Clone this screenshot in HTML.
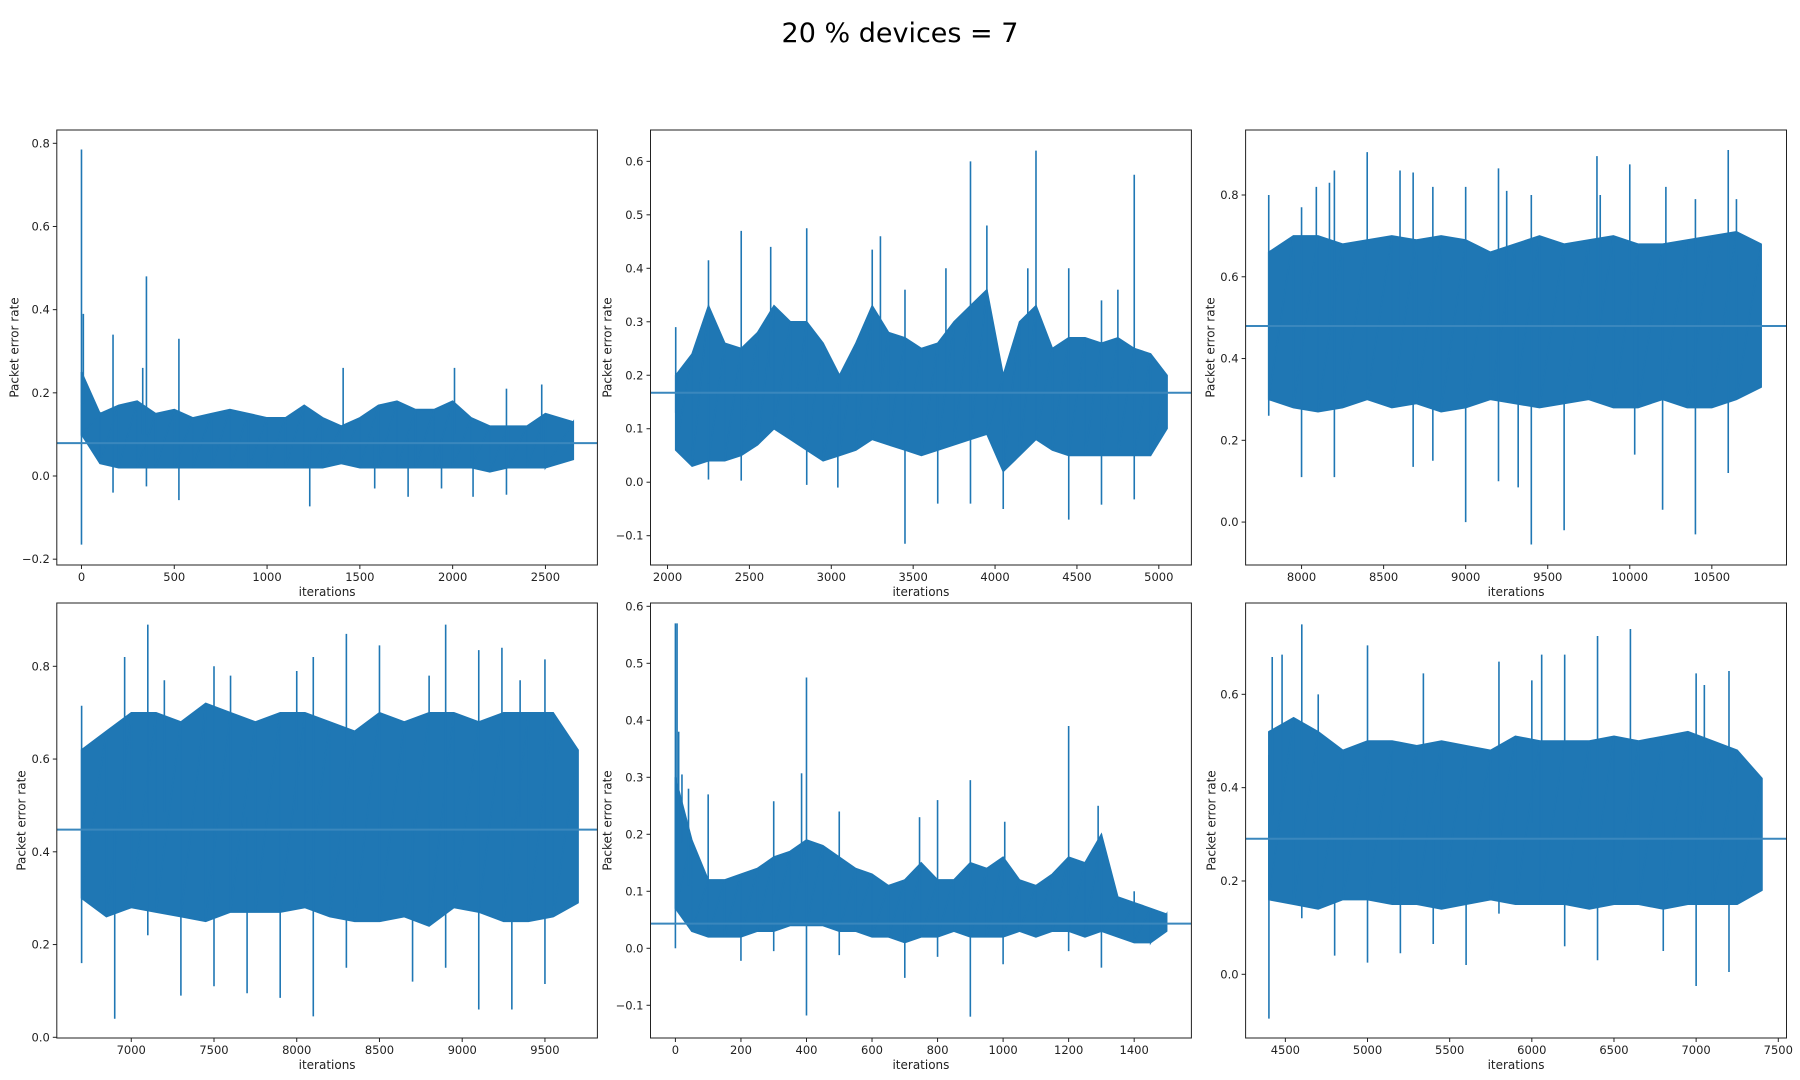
<!DOCTYPE html>
<html><head><meta charset="utf-8"><style>
html,body{margin:0;padding:0;background:#fff;}
svg{display:block;font-family:"DejaVu Sans","Liberation Sans",sans-serif;}
</style></head><body>
<svg id="fig" width="1800" height="1080" viewBox="0 0 1800 1080" xmlns="http://www.w3.org/2000/svg">
<rect width="1800" height="1080" fill="#fff"/>
<text x="900" y="42" text-anchor="middle" font-size="27" fill="#000">20 % devices = 7</text>
</svg>
<script>
// ---- Data ----
const binsA_x = [0,100,200,300,400,500,600,700,800,900,1000,1100,1200,1300,1400,1500,1600,1700,1800,1900,2000,2100,2200,2300,2400,2500,2650];
const binsA_hi = [0.25,0.15,0.17,0.18,0.15,0.16,0.14,0.15,0.16,0.15,0.14,0.14,0.17,0.14,0.12,0.14,0.17,0.18,0.16,0.16,0.18,0.14,0.12,0.12,0.12,0.15,0.13];
const binsA_lo = [0.10,0.03,0.02,0.02,0.02,0.02,0.02,0.02,0.02,0.02,0.02,0.02,0.02,0.02,0.03,0.02,0.02,0.02,0.02,0.02,0.02,0.02,0.01,0.02,0.02,0.02,0.04];
const spikesA_x = [0,0,10,170,170,350,350,525,525,1230,1410,1580,1760,2010,2110,2290,2290,2480,1940,330];
const spikesA_y = [0.785,-0.165,0.39,0.34,-0.04,0.48,-0.025,0.33,-0.058,-0.073,0.26,-0.03,-0.05,0.26,-0.05,0.21,-0.045,0.22,-0.03,0.26];

const binsB_x = [2050,2150,2250,2350,2450,2550,2650,2750,2850,2950,3050,3150,3250,3350,3450,3550,3650,3750,3850,3950,4050,4150,4250,4350,4450,4550,4650,4750,4850,4950,5050];
const binsB_hi = [0.20,0.24,0.33,0.26,0.25,0.28,0.33,0.30,0.30,0.26,0.20,0.26,0.33,0.28,0.27,0.25,0.26,0.30,0.33,0.36,0.20,0.30,0.33,0.25,0.27,0.27,0.26,0.27,0.25,0.24,0.20];
const binsB_lo = [0.06,0.03,0.04,0.04,0.05,0.07,0.10,0.08,0.06,0.04,0.05,0.06,0.08,0.07,0.06,0.05,0.06,0.07,0.08,0.09,0.02,0.05,0.08,0.06,0.05,0.05,0.05,0.05,0.05,0.05,0.10];
const spikesB_x = [2050,2250,2250,2450,2450,2630,2850,2850,3040,3250,3300,3450,3450,3650,3700,3850,3850,3950,4050,4250,4200,4450,4450,4650,4650,4850,4850,4750];
const spikesB_y = [0.29,0.415,0.005,0.47,0.003,0.44,0.475,-0.005,-0.01,0.435,0.46,-0.115,0.36,-0.04,0.40,0.60,-0.04,0.48,-0.05,0.62,0.40,0.40,-0.07,-0.042,0.34,0.575,-0.032,0.36];

const binsC_x = [7800,7950,8100,8250,8400,8550,8700,8850,9000,9150,9300,9450,9600,9750,9900,10050,10200,10350,10500,10650,10800];
const binsC_hi = [0.66,0.70,0.70,0.68,0.69,0.70,0.69,0.70,0.69,0.66,0.68,0.70,0.68,0.69,0.70,0.68,0.68,0.69,0.70,0.71,0.68];
const binsC_lo = [0.30,0.28,0.27,0.28,0.30,0.28,0.29,0.27,0.28,0.30,0.29,0.28,0.29,0.30,0.28,0.28,0.30,0.28,0.28,0.30,0.33];
const spikesC_x = [7800,7800,8000,8000,8090,8170,8200,8200,8400,8600,8680,8680,8800,8800,9000,9000,9200,9200,9250,9320,9400,9400,9600,9800,9820,10000,10030,10200,10220,10400,10400,10600,10600,10650];
const spikesC_y = [0.80,0.26,0.77,0.11,0.82,0.83,0.86,0.11,0.905,0.86,0.855,0.135,0.82,0.15,0.82,0.0,0.865,0.10,0.81,0.085,-0.055,0.80,-0.02,0.895,0.80,0.875,0.165,0.03,0.82,-0.03,0.79,0.91,0.12,0.79];

const binsD_x = [6700,6850,7000,7150,7300,7450,7600,7750,7900,8050,8200,8350,8500,8650,8800,8950,9100,9250,9400,9550,9700];
const binsD_hi = [0.62,0.66,0.70,0.70,0.68,0.72,0.70,0.68,0.70,0.70,0.68,0.66,0.70,0.68,0.70,0.70,0.68,0.70,0.70,0.70,0.62];
const binsD_lo = [0.30,0.26,0.28,0.27,0.26,0.25,0.27,0.27,0.27,0.28,0.26,0.25,0.25,0.26,0.24,0.28,0.27,0.25,0.25,0.26,0.29];
const spikesD_x = [6700,6700,6900,6960,7100,7100,7300,7500,7500,7600,7700,7900,8000,8100,8100,8300,8300,8500,8700,8800,8900,8900,9100,9100,9240,9300,9500,9500,9350,7200];
const spikesD_y = [0.715,0.16,0.04,0.82,0.89,0.22,0.09,0.80,0.11,0.78,0.095,0.085,0.79,0.82,0.045,0.87,0.15,0.845,0.12,0.78,0.89,0.15,0.835,0.06,0.84,0.06,0.815,0.115,0.77,0.77];

const binsE_x = [0,50,100,150,200,250,300,350,400,450,500,550,600,650,700,750,800,850,900,950,1000,1050,1100,1150,1200,1250,1300,1350,1400,1450,1499];
const binsE_hi = [0.30,0.19,0.12,0.12,0.13,0.14,0.16,0.17,0.19,0.18,0.16,0.14,0.13,0.11,0.12,0.15,0.12,0.12,0.15,0.14,0.16,0.12,0.11,0.13,0.16,0.15,0.20,0.09,0.08,0.07,0.06];
const binsE_lo = [0.07,0.03,0.02,0.02,0.02,0.03,0.03,0.04,0.04,0.04,0.03,0.03,0.02,0.02,0.01,0.02,0.02,0.03,0.02,0.02,0.02,0.03,0.02,0.03,0.03,0.02,0.03,0.02,0.01,0.01,0.03];
const spikesE_x = [0,0,5,10,20,40,100,200,300,300,385,400,400,500,500,700,745,800,800,900,900,1000,1005,1200,1200,1290,1300,1400];
const spikesE_y = [0.57,0.0,0.57,0.38,0.305,0.28,0.27,-0.022,0.258,-0.005,0.307,0.475,-0.118,0.24,-0.012,-0.052,0.23,0.26,-0.015,0.295,-0.12,-0.028,0.222,0.39,-0.005,0.25,-0.034,0.10];

const binsF_x = [4400,4550,4700,4850,5000,5150,5300,5450,5600,5750,5900,6050,6200,6350,6500,6650,6800,6950,7100,7250,7400];
const binsF_hi = [0.52,0.55,0.52,0.48,0.50,0.50,0.49,0.50,0.49,0.48,0.51,0.50,0.50,0.50,0.51,0.50,0.51,0.52,0.50,0.48,0.42];
const binsF_lo = [0.16,0.15,0.14,0.16,0.16,0.15,0.15,0.14,0.15,0.16,0.15,0.15,0.15,0.14,0.15,0.15,0.14,0.15,0.15,0.15,0.18];
const spikesF_x = [4400,4400,4420,4480,4600,4600,4800,5000,5000,5200,5340,5400,5600,5800,5800,6000,6060,6200,6200,6400,6400,6600,6800,7000,7000,7200,7200,7050,4700];
const spikesF_y = [-0.095,0.47,0.68,0.685,0.75,0.12,0.04,0.705,0.025,0.045,0.645,0.065,0.02,0.67,0.13,0.63,0.685,0.06,0.685,0.725,0.03,0.74,0.05,0.645,-0.025,0.005,0.65,0.62,0.60];

const meanVals = [0.079,0.1674,0.4795,0.4477,0.0432,0.2906];
const xTicksA=[0,500,1000,1500,2000,2500], yTicksA=[-0.2,0,0.2,0.4,0.6,0.8];
const xTicksB=[2000,2500,3000,3500,4000,4500,5000], yTicksB=[-0.1,0,0.1,0.2,0.3,0.4,0.5,0.6];
const xTicksC=[8000,8500,9000,9500,10000,10500], yTicksC=[0,0.2,0.4,0.6,0.8];
const xTicksD=[7000,7500,8000,8500,9000,9500], yTicksD=[0,0.2,0.4,0.6,0.8];
const xTicksE=[0,200,400,600,800,1000,1200,1400], yTicksE=[-0.1,0,0.1,0.2,0.3,0.4,0.5,0.6];
const xTicksF=[4500,5000,5500,6000,6500,7000,7500], yTicksF=[0,0.2,0.4,0.6];

// ---- layout ----
const NS="http://www.w3.org/2000/svg";
const svg=document.getElementById('fig');
function mk(tag,attrs,parent){const e=document.createElementNS(NS,tag);for(const k in attrs)e.setAttribute(k,attrs[k]);(parent||svg).appendChild(e);return e;}
const panels=[
 {L:56.8,T:130,W:540.6,H:435,xd:[-133,2780],yd:[-0.214,0.832],bx:binsA_x,hi:binsA_hi,lo:binsA_lo,sx:spikesA_x,sy:spikesA_y,xt:xTicksA,yt:yTicksA,lx:15,name:'panel-1'},
 {L:650.5,T:130,W:540.9,H:435,xd:[1896,5199],yd:[-0.1548,0.6586],bx:binsB_x,hi:binsB_hi,lo:binsB_lo,sx:spikesB_x,sy:spikesB_y,xt:xTicksB,yt:yTicksB,lx:608,name:'panel-2'},
 {L:1245.6,T:130,W:540.9,H:435,xd:[7659,10955],yd:[-0.105,0.959],bx:binsC_x,hi:binsC_hi,lo:binsC_lo,sx:spikesC_x,sy:spikesC_y,xt:xTicksC,yt:yTicksC,lx:1211,name:'panel-3'},
 {L:56.8,T:603,W:540.6,H:435,xd:[6550,9817],yd:[-0.0015,0.9365],bx:binsD_x,hi:binsD_hi,lo:binsD_lo,sx:spikesD_x,sy:spikesD_y,xt:xTicksD,yt:yTicksD,lx:22,name:'panel-4'},
 {L:650.5,T:603,W:540.9,H:435,xd:[-76,1574.6],yd:[-0.1574,0.6058],bx:binsE_x,hi:binsE_hi,lo:binsE_lo,sx:spikesE_x,sy:spikesE_y,xt:xTicksE,yt:yTicksE,lx:608,name:'panel-5'},
 {L:1245.6,T:603,W:540.9,H:435,xd:[4258,7550],yd:[-0.1365,0.7957],bx:binsF_x,hi:binsF_hi,lo:binsF_lo,sx:spikesF_x,sy:spikesF_y,xt:xTicksF,yt:yTicksF,lx:1212,name:'panel-6'}
];
const C='#1f77b4';
panels.forEach((p,i)=>{
  const g=mk('g',{});
  
  
  const X=v=>p.L+(v-p.xd[0])/(p.xd[1]-p.xd[0])*p.W;
  const Y=v=>p.T+p.H-(v-p.yd[0])/(p.yd[1]-p.yd[0])*p.H;
  const cid='clip'+i;
  const cp=mk('clipPath',{id:cid},g); mk('rect',{x:p.L,y:p.T,width:p.W,height:p.H},cp);
  const dg=mk('g',{'clip-path':'url(#'+cid+')'},g);
  let pts=[];
  for(let k=0;k<p.bx.length;k++)pts.push(X(p.bx[k]).toFixed(1)+','+Y(p.hi[k]).toFixed(1));
  for(let k=p.bx.length-1;k>=0;k--)pts.push(X(p.bx[k]).toFixed(1)+','+Y(p.lo[k]).toFixed(1));
  const band=mk('polygon',{points:pts.join(' '),fill:C,stroke:C,'stroke-width':1.5},dg);
  
  
  let zz=[];
  for(let k=0;k<p.bx.length;k++){zz.push(X(p.bx[k]).toFixed(1)+','+Y(p.hi[k]).toFixed(1));zz.push(X(p.bx[k]).toFixed(1)+','+Y(p.lo[k]).toFixed(1));}
  const zl=mk('polyline',{points:zz.join(' '),fill:'none',stroke:C,'stroke-width':1.5},dg);
  
  
  for(let k=0;k<p.sx.length;k++){
    let j=0;for(let m=0;m<p.bx.length;m++)if(Math.abs(p.bx[m]-p.sx[k])<Math.abs(p.bx[j]-p.sx[k]))j=m;
    const base=(p.hi[j]+p.lo[j])/2;
    const s=mk('line',{x1:X(p.sx[k]),x2:X(p.sx[k]),y1:Y(base),y2:Y(p.sy[k]),stroke:C,'stroke-width':1.6},dg);
    
    
  }
  const ml=mk('line',{x1:p.L,x2:p.L+p.W,y1:Y(meanVals[i]),y2:Y(meanVals[i]),stroke:'#3a87bd','stroke-width':2},g);
  
  
  const fr=mk('rect',{x:p.L,y:p.T,width:p.W,height:p.H,fill:'none',stroke:'#222','stroke-width':1},g);
  
  
  p.xt.forEach(v=>{
    const x=X(v);
    mk('line',{x1:x,x2:x,y1:p.T+p.H,y2:p.T+p.H+4,stroke:'#222'},g);
    const t=mk('text',{x:x,y:p.T+p.H+16,'text-anchor':'middle','font-size':11.5,fill:'#222'},g);
    t.textContent=String(v);
    
    
  });
  p.yt.forEach(v=>{
    const y=Y(v);
    mk('line',{x1:p.L-4,x2:p.L,y1:y,y2:y,stroke:'#222'},g);
    const t=mk('text',{x:p.L-7,y:y+4,'text-anchor':'end','font-size':11.5,fill:'#222'},g);
    t.textContent=(v<0?'\u2212':'')+Math.abs(v).toFixed(1);
    
    
  });
  const xl=mk('text',{x:p.L+p.W/2,y:p.T+p.H+31,'text-anchor':'middle','font-size':12,fill:'#222'},g);
  xl.textContent='iterations';
  
  
  const cy=p.T+p.H/2;
  const yl=mk('text',{x:p.lx,y:cy,'text-anchor':'middle','font-size':12,fill:'#222',transform:'rotate(-90 '+p.lx+' '+cy+')','dominant-baseline':'middle'},g);
  yl.textContent='Packet error rate';
  
  
});
</script>
</body></html>
